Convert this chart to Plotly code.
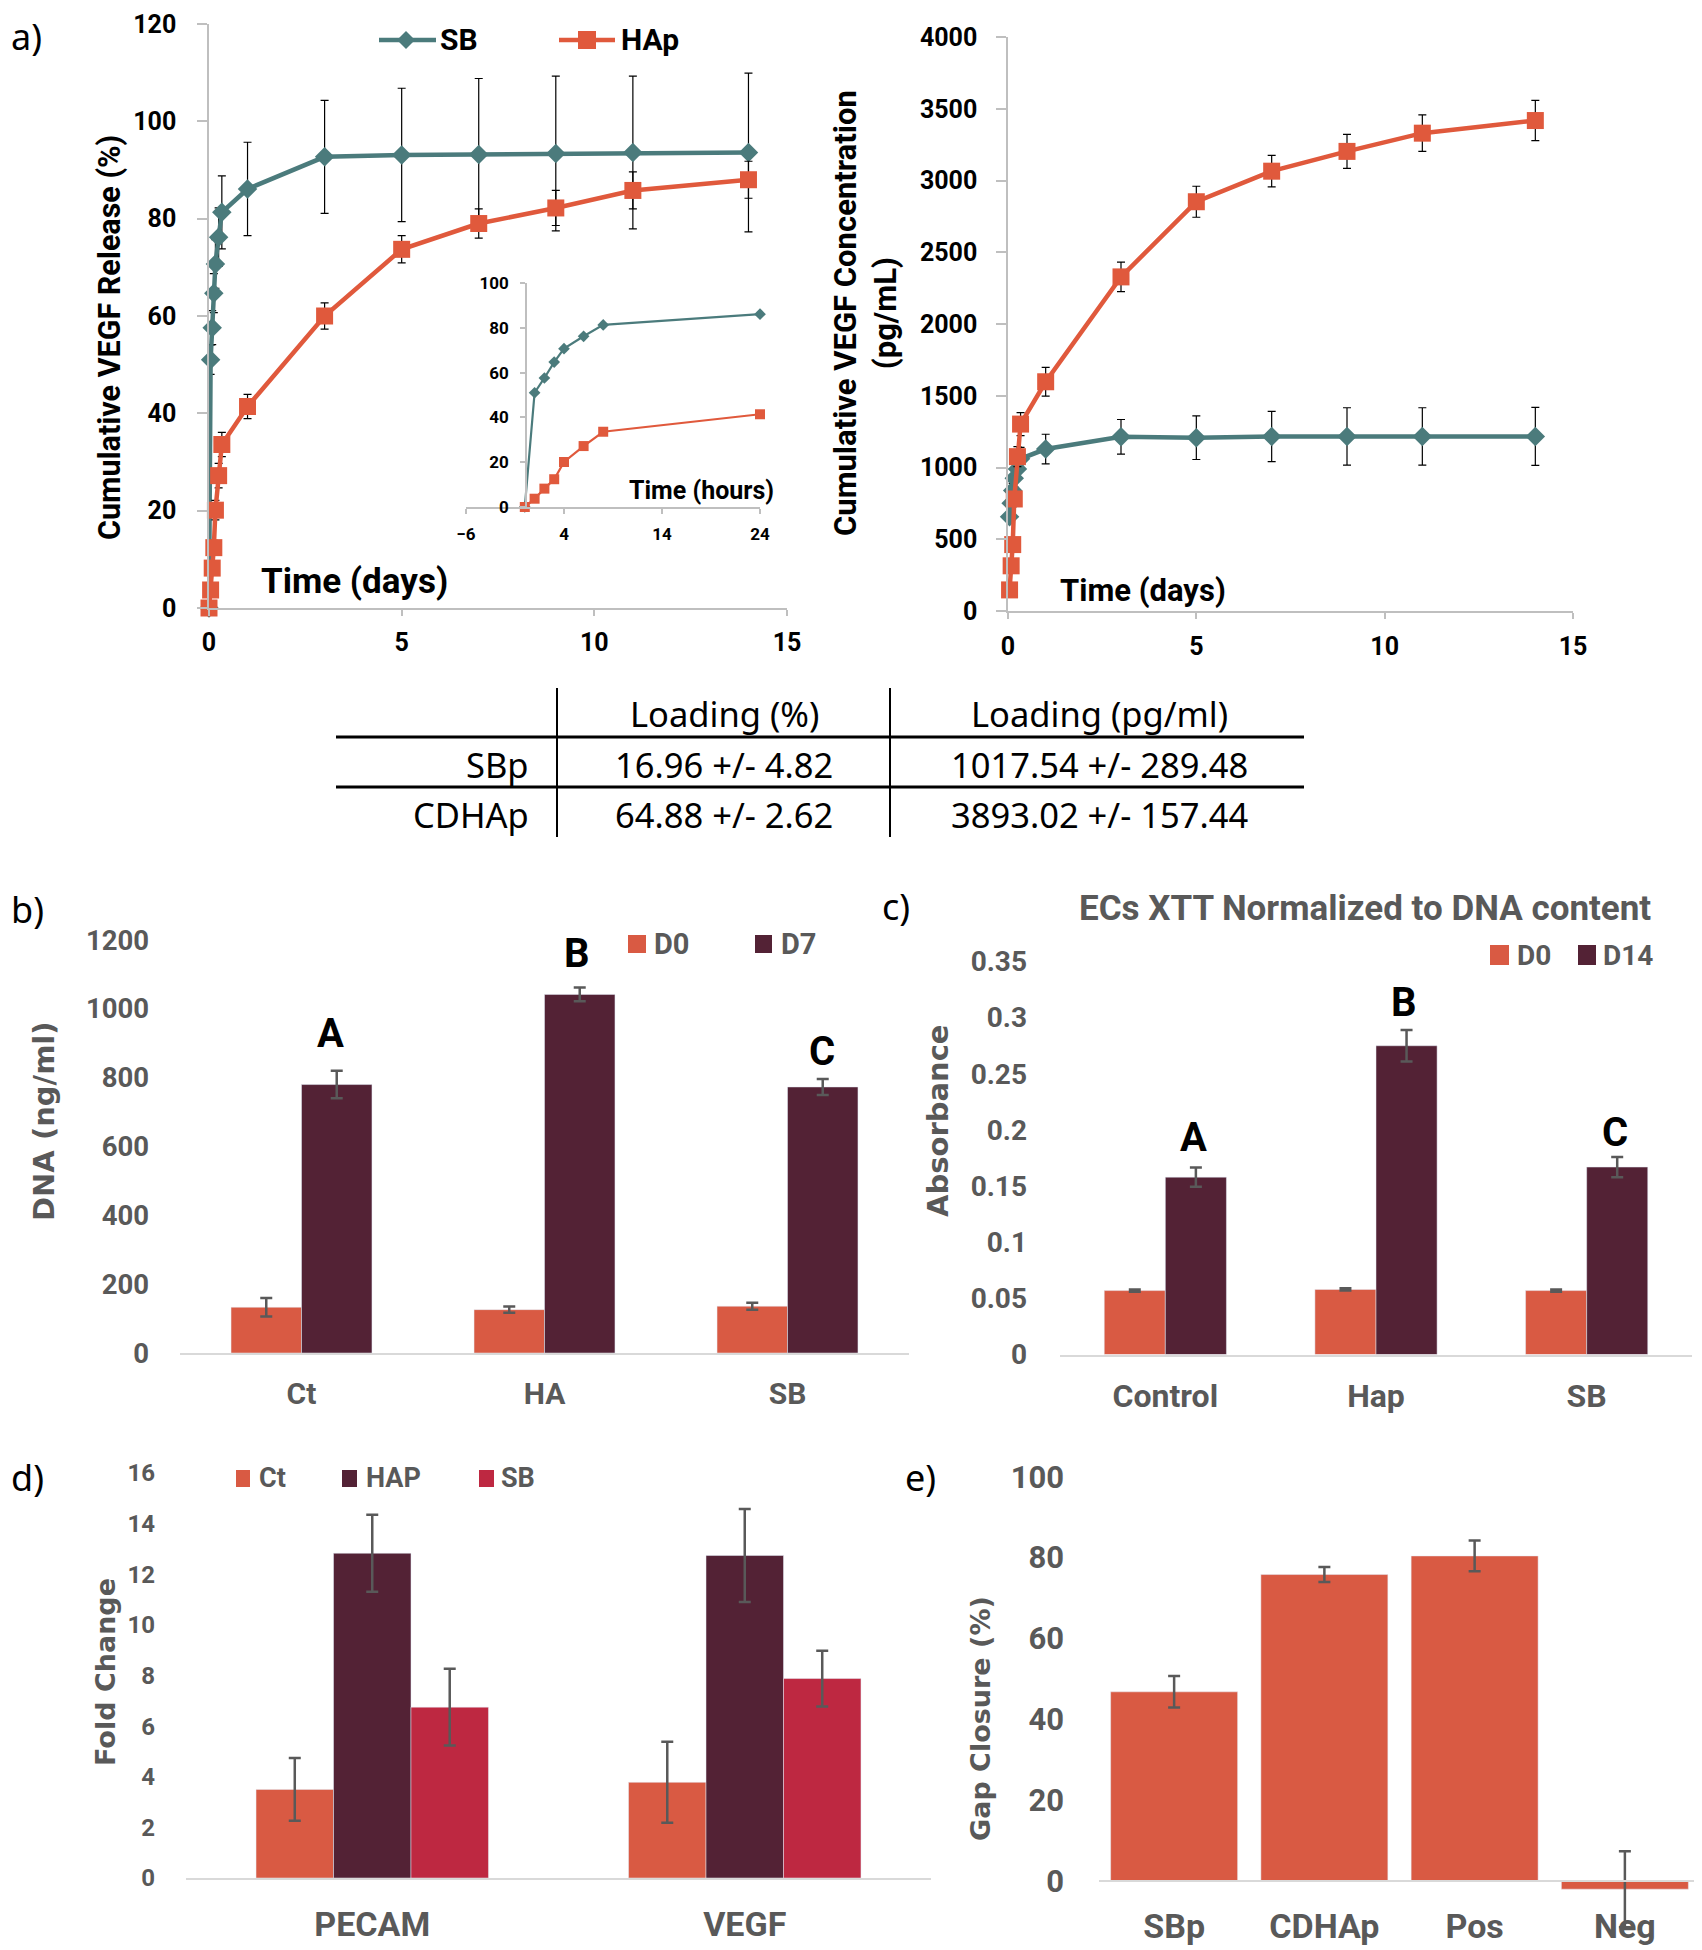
import plotly.graph_objects as go

W, H = 1702, 1950
OFF = 8  # page body margin of the browser
def fx(p): return (p - OFF) / W
def fy(p): return 1 - (p - OFF) / H
def dx(a, b): return [fx(a), fx(b)]
def dy(top, bottom): return [fy(bottom), fy(top)]

# ---------------- data ----------------
time_hours = [0, 1, 2, 3, 4, 6, 8, 24, 72, 120, 168, 216, 264, 336]
sb_release = [0, 51.0, 57.6, 64.7, 70.7, 76.2, 81.3, 86.1, 92.7, 93.1, 93.2, 93.4, 93.6, 93.6]
sb_release_err = [0, 3, 3.5, 4, 5, 6, 7.5, 9.6, 11.6, 13.7, 15.6, 15.9, 15.7, 16.3]
hap_release = [0, 3.7, 8.2, 12.4, 20.1, 27.2, 33.6, 41.4, 60.0, 73.7, 79.0, 82.2, 85.8, 88.0]
hap_release_err = [0, 1, 1.5, 1.5, 2, 2.5, 2.5, 2.5, 2.7, 2.8, 3.0, 3.6, 3.8, 3.8]

conc_hours = [1, 2, 3, 4, 6, 8, 24, 72, 120, 168, 216, 264, 336]
sb_conc = [657, 752, 840, 925, 990, 1061, 1129, 1214, 1208, 1217, 1217, 1217, 1217]
sb_conc_err = [40, 45, 50, 60, 70, 80, 103, 121, 152, 175, 200, 200, 202]
hap_conc = [147, 315, 463, 781, 1076, 1303, 1598, 2329, 2853, 3066, 3204, 3331, 3419]
hap_conc_err = [20, 30, 40, 50, 70, 80, 100, 103, 108, 110, 118, 127, 140]

table_cols = ["Loading (%)", "Loading (pg/ml)"]
table_rows = ["SBp", "CDHAp"]
table_pct = ["16.96 +/- 4.82", "64.88 +/- 2.62"]
table_pg = ["1017.54 +/- 289.48", "3893.02 +/- 157.44"]

groups_b = ["Ct", "HA", "SB"]
d0_b = [133, 126, 136]
d0_b_err = [27, 9, 10]
d7_b = [780, 1042, 773]
d7_b_err = [40, 20, 23]
letters_b = ["A", "B", "C"]

groups_c = ["Control", "Hap", "SB"]
d0_c = [0.057, 0.058, 0.057]
d0_c_err = [0.001, 0.001, 0.001]
d14_c = [0.158, 0.275, 0.167]
d14_c_err = [0.0085, 0.014, 0.009]
letters_c = ["A", "B", "C"]

genes_d = ["PECAM", "VEGF"]
ct_d = [3.5, 3.78]
ct_d_err = [1.24, 1.6]
hap_d = [12.83, 12.74]
hap_d_err = [1.52, 1.84]
sb_d = [6.75, 7.88]
sb_d_err = [1.52, 1.1]

groups_e = ["SBp", "CDHAp", "Pos", "Neg"]
gap_e = [46.8, 75.8, 80.4, -2.0]
gap_e_err = [3.9, 1.85, 3.8, 9.4]

# ---------------- style ----------------
TEAL = "#4B7B7C"
ORANGE = "#E0593C"
C_D0 = "#D95A43"
C_D7 = "#532235"
C_SB = "#BE2841"
GT = "#595959"
AX = "#BFBFBF"
LAX = "#D9D9D9"
NARROW = "Roboto, sans-serif"
BOLD = "Roboto, sans-serif"
GEOM = "DejaVu Sans, sans-serif"
REG = "Noto Sans, Open Sans, sans-serif"

days = [h / 24 for h in time_hours]
conc_days = [h / 24 for h in conc_hours]
n_in = 8  # points within first 24 h

fig = go.Figure()

# panel a, left
fig.add_trace(go.Scatter(x=days, y=sb_release, mode="lines+markers", xaxis="x", yaxis="y",
                         line=dict(color=TEAL, width=4.5), marker=dict(symbol="diamond", size=15, color=TEAL),
                         error_y=dict(type="data", array=sb_release_err, color="black", thickness=1.2, width=4),
                         cliponaxis=False, showlegend=False))
fig.add_trace(go.Scatter(x=days, y=hap_release, mode="lines+markers", xaxis="x", yaxis="y",
                         line=dict(color=ORANGE, width=4.5), marker=dict(symbol="square", size=17, color=ORANGE),
                         error_y=dict(type="data", array=hap_release_err, color="black", thickness=1.2, width=4),
                         cliponaxis=False, showlegend=False))
# inset
fig.add_trace(go.Scatter(x=time_hours[:n_in], y=sb_release[:n_in], mode="lines+markers", xaxis="x2", yaxis="y2",
                         line=dict(color=TEAL, width=2.2), marker=dict(symbol="diamond", size=9, color=TEAL),
                         cliponaxis=False, showlegend=False))
fig.add_trace(go.Scatter(x=time_hours[:n_in], y=hap_release[:n_in], mode="lines+markers", xaxis="x2", yaxis="y2",
                         line=dict(color=ORANGE, width=2.2), marker=dict(symbol="square", size=10, color=ORANGE),
                         cliponaxis=False, showlegend=False))
# panel a, right
fig.add_trace(go.Scatter(x=conc_days, y=sb_conc, mode="lines+markers", xaxis="x3", yaxis="y3",
                         line=dict(color=TEAL, width=4.5), marker=dict(symbol="diamond", size=15, color=TEAL),
                         error_y=dict(type="data", array=sb_conc_err, color="black", thickness=1.2, width=4),
                         cliponaxis=False, showlegend=False))
fig.add_trace(go.Scatter(x=conc_days, y=hap_conc, mode="lines+markers", xaxis="x3", yaxis="y3",
                         line=dict(color=ORANGE, width=4.5), marker=dict(symbol="square", size=17, color=ORANGE),
                         error_y=dict(type="data", array=hap_conc_err, color="black", thickness=1.2, width=4),
                         cliponaxis=False, showlegend=False))

def err(a):
    return dict(type="data", array=a, color=GT, thickness=2.5, width=6)

# panel b
fig.add_trace(go.Bar(x=groups_b, y=d0_b, width=0.29, offset=-0.29, marker_color=C_D0, error_y=err(d0_b_err),
                     xaxis="x4", yaxis="y4", showlegend=False))
fig.add_trace(go.Bar(x=groups_b, y=d7_b, width=0.29, offset=0, marker_color=C_D7, error_y=err(d7_b_err),
                     xaxis="x4", yaxis="y4", showlegend=False))
# panel c
fig.add_trace(go.Bar(x=groups_c, y=d0_c, width=0.29, offset=-0.29, marker_color=C_D0, error_y=err(d0_c_err),
                     xaxis="x5", yaxis="y5", showlegend=False))
fig.add_trace(go.Bar(x=groups_c, y=d14_c, width=0.29, offset=0, marker_color=C_D7, error_y=err(d14_c_err),
                     xaxis="x5", yaxis="y5", showlegend=False))
# panel d
fig.add_trace(go.Bar(x=genes_d, y=ct_d, width=0.208, offset=-0.312, marker_color=C_D0, error_y=err(ct_d_err),
                     xaxis="x6", yaxis="y6", showlegend=False))
fig.add_trace(go.Bar(x=genes_d, y=hap_d, width=0.208, offset=-0.104, marker_color=C_D7, error_y=err(hap_d_err),
                     xaxis="x6", yaxis="y6", showlegend=False))
fig.add_trace(go.Bar(x=genes_d, y=sb_d, width=0.208, offset=0.104, marker_color=C_SB, error_y=err(sb_d_err),
                     xaxis="x6", yaxis="y6", showlegend=False))
# panel e
fig.add_trace(go.Bar(x=groups_e, y=gap_e, width=0.845, offset=-0.4225, marker_color=C_D0, error_y=err(gap_e_err),
                     xaxis="x7", yaxis="y7", showlegend=False, cliponaxis=False))

# ---------------- axes ----------------
def a_axis(size=25, **kw):
    d = dict(showline=True, linecolor=AX, linewidth=1.5, ticks="outside", tickcolor=AX, tickwidth=1.5,
             showgrid=False, zeroline=False, ticklabeloverflow="allow",
             tickfont=dict(family=NARROW, size=size, color="black", weight="bold"))
    d.update(kw)
    return d

def bar_x(size, standoff, **kw):
    d = dict(type="category", showline=True, linecolor=LAX, linewidth=2, ticks="", showgrid=False,
             zeroline=False, ticklabelstandoff=standoff, ticklabeloverflow="allow",
             tickfont=dict(family=NARROW, size=size, color=GT, weight="bold"))
    d.update(kw)
    return d

def bar_y(size, standoff, **kw):
    d = dict(showline=False, ticks="", showgrid=False, zeroline=False, ticklabelstandoff=standoff,
             ticklabeloverflow="allow",
             tickfont=dict(family=NARROW, size=size, color=GT, weight="bold"))
    d.update(kw)
    return d

E_BOTTOM = 1881 + 12 * 4.05  # panel e: y range extends to -12 below the drawn axis

fig.update_layout(
    width=W, height=H, margin=dict(l=0, r=0, t=0, b=0, autoexpand=False),
    paper_bgcolor="white", plot_bgcolor="rgba(0,0,0,0)",
    xaxis=a_axis(domain=dx(209, 787), range=[0, 15], tickvals=[0, 5, 10, 15], anchor="y", ticklen=6,
                 ticklabelstandoff=5),
    yaxis=a_axis(domain=dy(24, 608), range=[0, 120], dtick=20, anchor="x", ticklen=10, ticklabelstandoff=16),
    xaxis2=a_axis(size=17, domain=dx(466, 760), range=[-6, 24], tickvals=[-6, 4, 14, 24], anchor="y2",
                  ticklen=5, ticklabelstandoff=6),
    yaxis2=a_axis(size=17, domain=dy(283, 507), range=[0, 100], dtick=20, anchor="free", position=fx(526),
                  ticklen=5, ticklabelstandoff=8),
    xaxis3=a_axis(domain=dx(1008, 1573), range=[0, 15], tickvals=[0, 5, 10, 15], anchor="y3", ticklen=6,
                  ticklabelstandoff=6),
    yaxis3=a_axis(domain=dy(37.2, 611), range=[0, 4000], dtick=500, anchor="x3", ticklen=10,
                  ticklabelstandoff=14),
    xaxis4=bar_x(30, 13, domain=dx(180, 909), range=[-0.5, 2.5], anchor="y4"),
    yaxis4=bar_y(27.5, 30, domain=dy(940, 1353), range=[0, 1200], dtick=200, anchor="x4"),
    xaxis5=bar_x(32, 12, domain=dx(1060, 1692), range=[-0.5, 2.5], anchor="y5"),
    yaxis5=bar_y(28, 32, domain=dy(961.5, 1354.6), range=[0, 0.35],
                 tickvals=[0, 0.05, 0.1, 0.15, 0.2, 0.25, 0.3, 0.35],
                 ticktext=["0", "0.05", "0.1", "0.15", "0.2", "0.25", "0.3", "0.35"], anchor="x5"),
    xaxis6=bar_x(34, 15, domain=dx(186, 931), range=[-0.5, 1.5], anchor="y6"),
    yaxis6=bar_y(24, 30, domain=dy(1473, 1878), range=[0, 16], dtick=2, anchor="x6"),
    xaxis7=bar_x(34, 15, domain=dx(1099, 1700), range=[-0.5, 3.5], anchor="free", position=fy(1881)),
    yaxis7=bar_y(31, 34, domain=dy(1476.7, E_BOTTOM), range=[-12, 100],
                 tickvals=[0, 20, 40, 60, 80, 100], anchor="x7"),
)

ann = []
shapes = []

def text(x, y, s, size, family, color="black", weight="normal", xanchor="center", angle=0):
    ann.append(dict(x=fx(x), y=fy(y), xref="paper", yref="paper", text=s, showarrow=False,
                    xanchor=xanchor, yanchor="middle", textangle=angle,
                    font=dict(family=family, size=size, color=color, weight=weight)))

def rect(x0, y0, x1, y1, color):
    shapes.append(dict(type="rect", xref="paper", yref="paper", x0=fx(x0), x1=fx(x1), y0=fy(y1), y1=fy(y0),
                       fillcolor=color, line=dict(width=0)))

def hline(x0, x1, y, w=2, color="black"):
    shapes.append(dict(type="line", xref="paper", yref="paper", x0=fx(x0), x1=fx(x1), y0=fy(y), y1=fy(y),
                       line=dict(color=color, width=w)))

def vline(x, y0, y1, w=2, color="black"):
    shapes.append(dict(type="line", xref="paper", yref="paper", x0=fx(x), x1=fx(x), y0=fy(y0), y1=fy(y1),
                       line=dict(color=color, width=w)))

def path(pts, color):
    p = "M " + " L ".join(f"{fx(a)},{fy(b)}" for a, b in pts) + " Z"
    shapes.append(dict(type="path", xref="paper", yref="paper", path=p, fillcolor=color, line=dict(width=0)))

# panel labels (kept just inside the figure's edges)
for lab, x, y in [("a)", 9, 36), ("b)", 9, 910), ("c)", 880, 906), ("d)", 9, 1477), ("e)", 903, 1477)]:
    text(x, y, lab, 36, REG, xanchor="left")

# panel a texts
text(110, 338, "Cumulative VEGF Release (%)", 30.5, BOLD, weight="bold", angle=-90)
text(354, 582, "Time (days)", 35, BOLD, weight="bold")
text(701, 490, "Time (hours)", 25, BOLD, weight="bold")
text(865, 313, "Cumulative VEGF Concentration<br>(pg/mL)", 31, BOLD, weight="bold", angle=-90)
text(1143, 590, "Time (days)", 31, BOLD, weight="bold")
# legend a
hline(379, 436, 40, w=4.5, color=TEAL)
path([(406, 31), (415, 40), (406, 49), (397, 40)], TEAL)
text(438, 40, "SB", 30, BOLD, weight="bold", xanchor="left")
hline(559, 615, 40, w=4.5, color=ORANGE)
rect(578, 31, 596, 49, ORANGE)
text(619, 40, "HAp", 30, BOLD, weight="bold", xanchor="left")

# table
vline(557, 688, 837)
vline(890, 688, 837)
hline(336, 1304, 737, w=3)
hline(336, 1304, 787, w=3)
TS = 34.5
text(724, 714, table_cols[0], TS, REG)
text(1099, 714, table_cols[1], TS, REG)
for i, ry in enumerate([764, 814]):
    text(531, ry, table_rows[i], TS, REG, xanchor="right")
    text(724, ry, table_pct[i], TS, REG)
    text(1099, ry, table_pg[i], TS, REG)

# panel b
text(44, 1121, "DNA (ng/ml)", 29, GEOM, color=GT, weight="bold", angle=-90)
rect(628, 935, 646, 953, C_D0)
text(652, 944, "D0", 29, NARROW, color=GT, weight="bold", xanchor="left")
rect(755, 935, 772, 953, C_D7)
text(779, 944, "D7", 29, NARROW, color=GT, weight="bold", xanchor="left")
for s, x, y in zip(letters_b, [330, 577, 822], [1033, 954, 1051]):
    text(x, y, s, 40, NARROW, weight="bold")

# panel c
text(1365, 908, "ECs XTT Normalized to DNA content", 35, NARROW, color=GT, weight="bold")
text(938, 1121, "Absorbance", 29, GEOM, color=GT, weight="bold", angle=-90)
rect(1490, 945, 1509, 965, C_D0)
text(1515, 955, "D0", 28, NARROW, color=GT, weight="bold", xanchor="left")
rect(1578, 945, 1596, 965, C_D7)
text(1601, 955, "D14", 28, NARROW, color=GT, weight="bold", xanchor="left")
for s, x, y in zip(letters_c, [1193, 1404, 1615], [1137, 1003, 1132]):
    text(x, y, s, 40, NARROW, weight="bold")

# panel d
text(105, 1672, "Fold Change", 27, GEOM, color=GT, weight="bold", angle=-90)
for (x0, x1, tx, lab, col) in [(236, 250, 257, "Ct", C_D0), (342, 357, 364, "HAP", C_D7), (479, 494, 499, "SB", C_SB)]:
    rect(x0, 1470, x1, 1487, col)
    text(tx, 1478, lab, 27, NARROW, color=GT, weight="bold", xanchor="left")

# panel e
text(980, 1718, "Gap Closure (%)", 27, GEOM, color=GT, weight="bold", angle=-90)

fig.update_layout(annotations=ann, shapes=shapes)
fig.write_html("out.html")
